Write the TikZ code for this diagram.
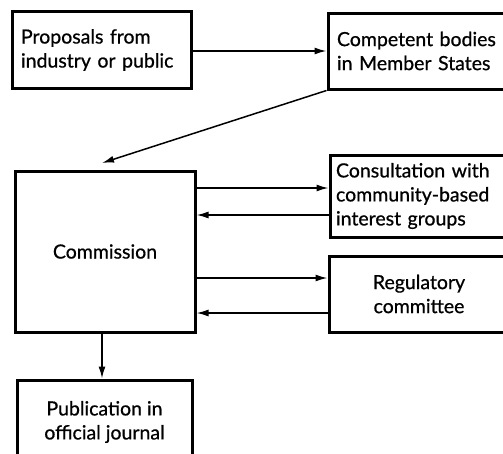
\documentclass[tikz,border=0pt]{standalone}
\usepackage{fontspec}
\setmainfont{Lato}[FakeBold=0.7]
\usetikzlibrary{arrows.meta}
\begin{document}
\begin{tikzpicture}[x=1pt,y=-1pt,
  box/.style={draw=black,line width=3pt,rectangle,inner xsep=0pt,inner ysep=0pt,
    font=\fontsize{19.5}{24}\selectfont},
  lbox/.style={box,align=left},
  cbox/.style={box,align=center},
  flow/.style={line width=1.5pt,-{Latex[length=12pt,width=7pt]}}]
\clip (0,0) rectangle (503,453);
% upper row
\node[lbox,minimum width=179pt,minimum height=77pt,text width=161pt] (prop) at (101.5,50)
  {Proposals from\\industry or public};
\node[lbox,minimum width=184pt,minimum height=76pt,text width=166pt] (comp) at (420,51)
  {Competent bodies\\in Member States};
% commission and its partners
\node[cbox,minimum width=180pt,minimum height=161pt] (comm) at (105,251.5) {Commission};
\node[lbox,minimum width=180pt,minimum height=82pt,text width=168pt] (cons) at (420,196)
  {Consultation with\\community-based\\interest groups};
\node[cbox,minimum width=180pt,minimum height=76pt] (reg) at (419,294) {Regulatory\\committee};
\node[cbox,minimum width=175pt,minimum height=84pt] (pub) at (104.5,422)
  {Publication in\\official journal};
\coordinate (commtop) at (102,163);
% connectors
\draw[flow] (prop.east |- 0,51) -- (comp.west |- 0,51);
\draw[flow] (comp.south west) -- (commtop);
\draw[flow] (comm.east |- 0,188) -- (cons.west |- 0,188);
\draw[flow] (cons.west |- 0,215) -- (comm.east |- 0,215);
\draw[flow] (comm.east |- 0,278) -- (reg.west |- 0,278);
\draw[flow] (reg.west |- 0,313) -- (comm.east |- 0,313);
\draw[flow] (comm.south -| 102,0) -- (pub.north -| 102,0);
\end{tikzpicture}
\end{document}
